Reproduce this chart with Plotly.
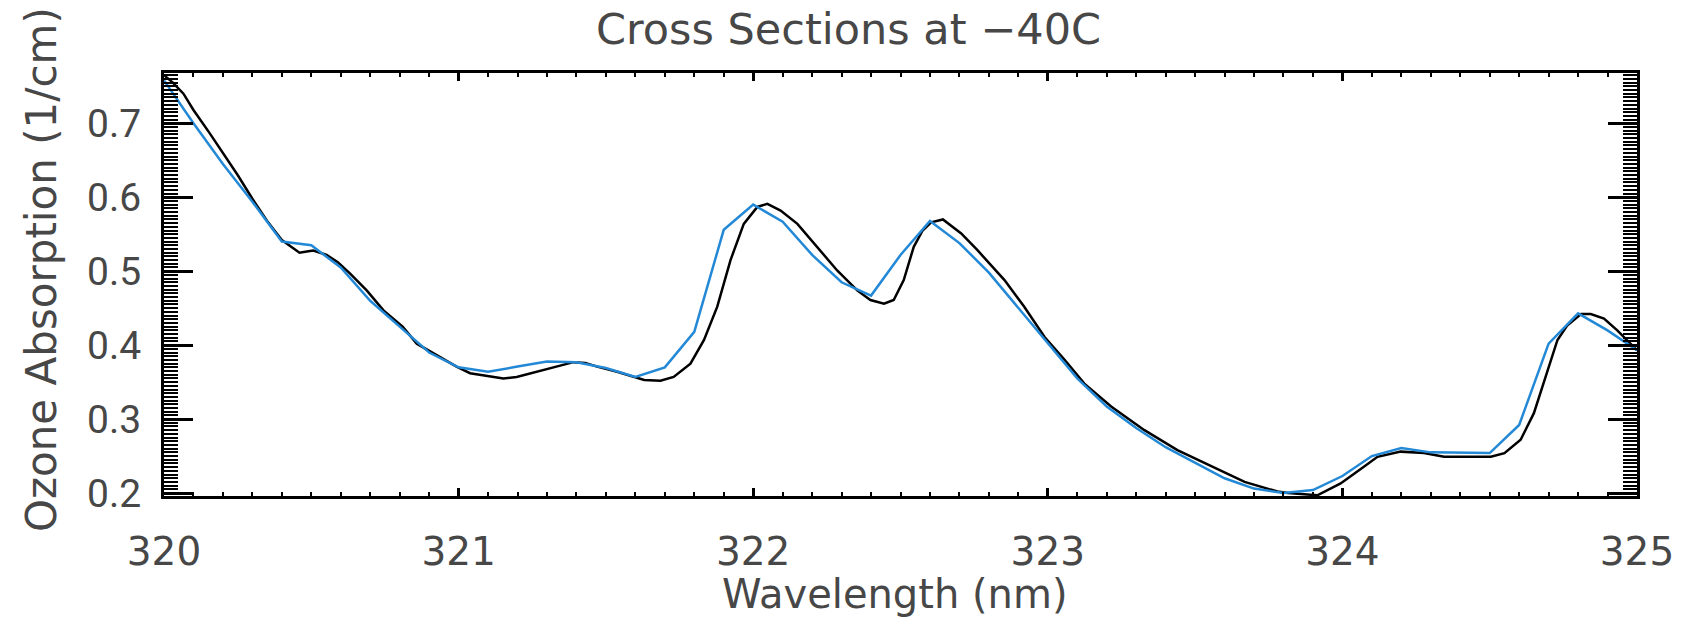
import plotly.graph_objects as go

# Black curve (high-resolution cross section)
black_wl = [320.00, 320.03, 320.066, 320.10, 320.156, 320.20, 320.25, 320.30, 320.35, 320.40,
            320.44, 320.46, 320.49, 320.507, 320.552, 320.59, 320.631, 320.688, 320.745, 320.81,
            320.858, 320.914, 320.993, 321.039, 321.084, 321.152, 321.197, 321.244, 321.31, 321.39,
            321.43, 321.47, 321.538, 321.63, 321.685, 321.73, 321.787, 321.833, 321.878, 321.923,
            321.968, 322.014, 322.048, 322.093, 322.15, 322.217, 322.285, 322.353, 322.398, 322.444,
            322.477, 322.511, 322.545, 322.575, 322.604, 322.644, 322.706, 322.762, 322.853, 322.92,
            322.989, 323.057, 323.124, 323.215, 323.328, 323.44, 323.554, 323.668, 323.78, 323.815,
            323.915, 323.994, 324.074, 324.119, 324.198, 324.277, 324.345, 324.504, 324.55, 324.605,
            324.65, 324.696, 324.73, 324.764, 324.81, 324.843, 324.888, 324.933, 325.0]
black_val = [0.765, 0.755, 0.740, 0.718, 0.686, 0.660, 0.630, 0.598, 0.568, 0.542,
             0.530, 0.525, 0.527, 0.528, 0.522, 0.512, 0.497, 0.474, 0.447, 0.425,
             0.402, 0.389, 0.371, 0.362, 0.359, 0.355, 0.357, 0.362, 0.368, 0.377,
             0.376, 0.371, 0.364, 0.353, 0.352, 0.357, 0.375, 0.407, 0.452, 0.515,
             0.564, 0.587, 0.591, 0.582, 0.564, 0.533, 0.501, 0.474, 0.461, 0.456,
             0.461, 0.488, 0.533, 0.555, 0.566, 0.570, 0.551, 0.528, 0.488, 0.452,
             0.411, 0.380, 0.348, 0.317, 0.285, 0.258, 0.236, 0.215, 0.202, 0.200,
             0.197, 0.213, 0.236, 0.249, 0.256, 0.254, 0.249, 0.249, 0.254, 0.272,
             0.308, 0.366, 0.407, 0.427, 0.442, 0.442, 0.436, 0.420, 0.393]

# Blue curve (coarser, 0.1 nm sampling)
blue_wl = [320.0, 320.1, 320.2, 320.3, 320.4, 320.5, 320.6, 320.7, 320.8, 320.9,
           321.0, 321.1, 321.2, 321.3, 321.4, 321.5, 321.6, 321.7, 321.8, 321.9,
           322.0, 322.1, 322.2, 322.3, 322.4, 322.5, 322.6, 322.7, 322.8, 322.9,
           323.0, 323.1, 323.2, 323.3, 323.4, 323.5, 323.6, 323.7, 323.8, 323.9,
           324.0, 324.1, 324.2, 324.3, 324.4, 324.5, 324.6, 324.7, 324.8, 324.9, 325.0]
blue_val = [0.758, 0.700, 0.645, 0.594, 0.540, 0.535, 0.505, 0.460, 0.425, 0.390,
            0.370, 0.364, 0.371, 0.378, 0.377, 0.369, 0.357, 0.370, 0.418, 0.556,
            0.590, 0.567, 0.522, 0.485, 0.467, 0.522, 0.568, 0.538, 0.498, 0.450,
            0.402, 0.355, 0.317, 0.288, 0.262, 0.241, 0.220, 0.206, 0.200, 0.204,
            0.223, 0.250, 0.261, 0.255, 0.254, 0.254, 0.292, 0.402, 0.443, 0.420, 0.393]

x_ticks = [320, 321, 322, 323, 324, 325]
y_ticks = [0.2, 0.3, 0.4, 0.5, 0.6, 0.7]

TEXT = "#474747"
FONT = "DejaVu Sans"

fig = go.Figure()
fig.add_trace(go.Scatter(x=black_wl, y=black_val, mode="lines",
                         line=dict(color="black", width=2.5), showlegend=False))
fig.add_trace(go.Scatter(x=blue_wl, y=blue_val, mode="lines",
                         line=dict(color="#2389d6", width=2.5), showlegend=False))

fig.update_layout(
    width=1693, height=624,
    margin=dict(l=164, r=56, t=73, b=128, autoexpand=False),
    paper_bgcolor="white", plot_bgcolor="white",
    font=dict(family=FONT, color=TEXT),
    showlegend=False,
)

fig.update_xaxes(
    range=[320, 325], tickvals=x_ticks, ticktext=[str(v) for v in x_ticks],
    ticks="inside", ticklen=8, tickwidth=2.5, tickcolor="black",
    minor=dict(ticks="inside", dtick=0.1, tick0=320, ticklen=4, tickwidth=2, tickcolor="black", showgrid=False),
    showline=True, linewidth=3, linecolor="black", mirror="allticks",
    showgrid=False, zeroline=False,
    tickfont=dict(size=39, family=FONT, color=TEXT), ticklabelstandoff=19,
)
fig.update_yaxes(
    range=[0.196, 0.768], tickvals=y_ticks, ticktext=["%.1f" % v for v in y_ticks],
    ticks="inside", ticklen=29, tickwidth=3, tickcolor="black",
    minor=dict(ticks="inside", dtick=0.005, tick0=0.2, ticklen=14, tickwidth=2, tickcolor="black", showgrid=False),
    showline=True, linewidth=3, linecolor="black", mirror="allticks",
    showgrid=False, zeroline=False,
    tickfont=dict(size=39, family="Roboto", color=TEXT), ticklabelstandoff=12,
)

fig.add_annotation(text="Cross Sections at \u221240C", xref="paper", yref="paper",
                   x=0.465, y=1.104, xanchor="center", yanchor="middle", showarrow=False,
                   font=dict(size=43, family=FONT, color=TEXT))
fig.add_annotation(text="Wavelength (nm)", xref="paper", yref="paper",
                   x=0.496, y=-0.232, xanchor="center", yanchor="middle", showarrow=False,
                   font=dict(size=40, family=FONT, color=TEXT))
fig.add_annotation(text="Ozone Absorption (1/cm)", xref="paper", yref="paper",
                   x=-0.0835, y=0.534, xanchor="center", yanchor="middle", showarrow=False,
                   textangle=-90, font=dict(size=42, family=FONT, color=TEXT))

fig.write_html("out.html")
